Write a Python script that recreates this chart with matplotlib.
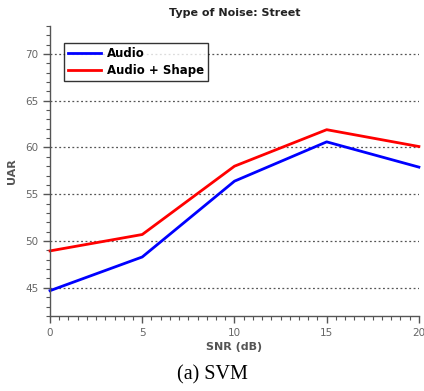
import matplotlib
matplotlib.use("Agg")
import matplotlib.pyplot as plt
from matplotlib.ticker import MultipleLocator

snr = [0, 5, 10, 15, 20]
audio = [44.7, 48.3, 56.4, 60.6, 57.9]
audio_shape = [48.95, 50.7, 58.0, 61.9, 60.1]
series_labels = ["Audio", "Audio + Shape"]
title = "Type of Noise: Street"
xlabel = "SNR (dB)"
ylabel = "UAR"
caption = "(a) SVM"

plt.rcParams['font.family'] = ['DejaVu Sans']
fig = plt.figure(figsize=(4.24, 3.91), dpi=100)
ax = fig.add_axes([0.118, 0.192, 0.870, 0.742])

ax.plot(snr, audio, color='#0000ff', lw=2, label=series_labels[0], clip_on=False)
ax.plot(snr, audio_shape, color='#ff0000', lw=2, label=series_labels[1], clip_on=False)

ax.set_xlim(0, 20)
ax.set_ylim(42, 73)
ax.xaxis.set_major_locator(MultipleLocator(5))
ax.xaxis.set_minor_locator(MultipleLocator(0.5))
ax.yaxis.set_major_locator(MultipleLocator(5))
ax.yaxis.set_minor_locator(MultipleLocator(1))
ax.set_yticks([45, 50, 55, 60, 65, 70])

for s in ['top', 'right']:
    ax.spines[s].set_visible(False)
for s in ['left', 'bottom']:
    ax.spines[s].set_color('#555555')
    ax.spines[s].set_linewidth(1.0)

ax.tick_params(which='major', direction='out', length=5, width=1, color='#555555',
               labelsize=7.5, labelcolor='#666666')
ax.tick_params(which='minor', direction='out', length=3, width=0.8, color='#555555')
ax.grid(axis='y', which='major', linestyle=(0, (1.5, 2)), color='#555555', lw=0.9)

ax.set_title(title, fontsize=8, fontweight='bold', color='#222222', pad=7)
ax.set_xlabel(xlabel, fontsize=8, fontweight='bold', color='#555555', labelpad=3)
ax.set_ylabel(ylabel, fontsize=8, fontweight='bold', color='#555555', labelpad=6)

leg = ax.legend(loc='upper left', bbox_to_anchor=(0.022, 0.96), fontsize=8.5,
                frameon=True, fancybox=False, handlelength=2.8, borderpad=0.35,
                labelspacing=0.3, handletextpad=0.5)
leg.get_frame().set_edgecolor('black')
leg.get_frame().set_linewidth(1.0)
for t in leg.get_texts():
    t.set_fontweight('bold')

fig.text(0.5, 0.016, caption, ha='center', va='bottom', fontsize=14.5,
         family='Liberation Serif')

fig.savefig('out.png', dpi=100)
